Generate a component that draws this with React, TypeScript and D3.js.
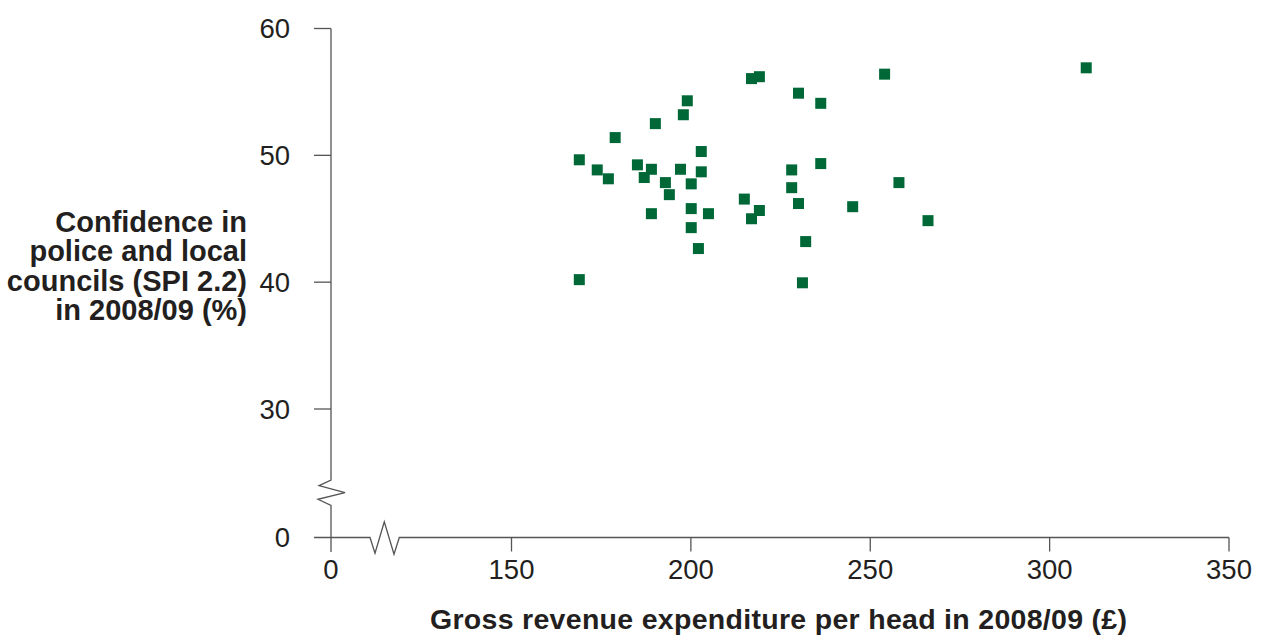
import React from "react";
import * as d3 from "d3";

const expenditure = [
  216.9, 219.1, 230.0, 236.2, 199.0, 197.9, 190.1, 178.9, 202.9, 168.9,
  173.9, 177.0, 185.1, 189.0, 187.0, 197.1, 202.9, 192.9, 200.1, 194.0,
  189.0, 200.1, 204.9, 200.1, 202.1, 214.9, 219.1, 216.9, 228.1, 228.1,
  236.2, 230.0, 232.0, 168.9, 231.1, 254.0, 310.2, 258.0, 245.1, 266.1,
];
const confidence = [
  56.05, 56.2, 54.9, 54.1, 54.3, 53.2, 52.5, 51.4, 50.3, 49.65,
  48.85, 48.15, 49.25, 48.9, 48.25, 48.9, 48.7, 47.85, 47.75, 46.9,
  45.4, 45.8, 45.4, 44.3, 42.65, 46.55, 45.65, 45.0, 48.85, 47.45,
  49.35, 46.2, 43.2, 40.2, 39.95, 56.4, 56.9, 47.85, 45.95, 44.85,
];
const xTicks = [0, 150, 200, 250, 300, 350];
const yTicks = [0, 30, 40, 50, 60];
const yLabelLines = [
  "Confidence in",
  "police and local",
  "councils (SPI 2.2)",
  "in 2008/09 (%)",
];
const xLabel = "Gross revenue expenditure per head in 2008/09 (£)";

const W = 1261;
const H = 635;
const AXIS = "#555555";
const TEXT = "#231f20";
const GREEN = "#006837";
const FONT = "'Liberation Sans', Arial, Helvetica, sans-serif";

export default function App() {
  const x = d3.scaleLinear().domain([0, 150, 350]).range([331, 511.5, 1229]);
  const y = d3.scaleLinear().domain([0, 30, 60]).range([537.5, 409, 28.5]);
  const x0 = x(0);
  const y0 = y(0);
  const line = d3.line<[number, number]>();

  const yAxisPath = line([
    [x0, y(60)],
    [x0, y0 - 57.5],
    [x0 - 12, y0 - 51.8],
    [x0 + 14, y0 - 44.8],
    [x0 - 13, y0 - 38.2],
    [x0, y0 - 32.2],
    [x0, y0 + 14.5],
  ]);
  const xAxisPath = line([
    [x0 - 17, y0],
    [x0 + 39, y0],
    [x0 + 44, y0 + 15.8],
    [x0 + 53.3, y0 - 15.8],
    [x0 + 63, y0 + 16.8],
    [x0 + 68.3, y0],
    [x(350), y0],
  ]);

  const s = 11;

  return (
    <svg
      width={W}
      height={H}
      style={{ position: "absolute", left: 0, top: 0, background: "#fff" }}
      fontFamily={FONT}
    >
      <path d={yAxisPath || ""} fill="none" stroke={AXIS} strokeWidth={1.3} />
      <path d={xAxisPath || ""} fill="none" stroke={AXIS} strokeWidth={1.3} />
      {yTicks.filter((t) => t !== 0).map((t) => (
        <line key={"yt" + t} x1={x0 - 17} x2={x0} y1={y(t)} y2={y(t)} stroke={AXIS} strokeWidth={1.3} />
      ))}
      {xTicks.filter((t) => t !== 0).map((t) => (
        <line key={"xt" + t} x1={x(t)} x2={x(t)} y1={y0} y2={y0 + 14} stroke={AXIS} strokeWidth={1.3} />
      ))}
      {yTicks.map((t) => (
        <text key={"yl" + t} x={290} y={y(t)} dy="0.35em" textAnchor="end" fontSize={27.5} fill={TEXT}>
          {t}
        </text>
      ))}
      {xTicks.map((t) => (
        <text key={"xl" + t} x={x(t)} y={578.5} textAnchor="middle" fontSize={27.5} fill={TEXT}>
          {t}
        </text>
      ))}
      {yLabelLines.map((l, i) => (
        <text key={"yll" + i} x={247} y={231.5 + i * 29.6} textAnchor="end" fontSize={29} fontWeight="bold" fill={TEXT}>
          {l}
        </text>
      ))}
      <text
        x={778.5}
        y={628.5}
        textAnchor="middle"
        fontSize={28.5}
        fontWeight="bold"
        fill={TEXT}
        textLength={697}
        lengthAdjust="spacing"
      >
        {xLabel}
      </text>
      {expenditure.map((v, i) => (
        <rect key={"p" + i} x={x(v) - s / 2} y={y(confidence[i]) - s / 2} width={s} height={s} fill={GREEN} />
      ))}
    </svg>
  );
}
